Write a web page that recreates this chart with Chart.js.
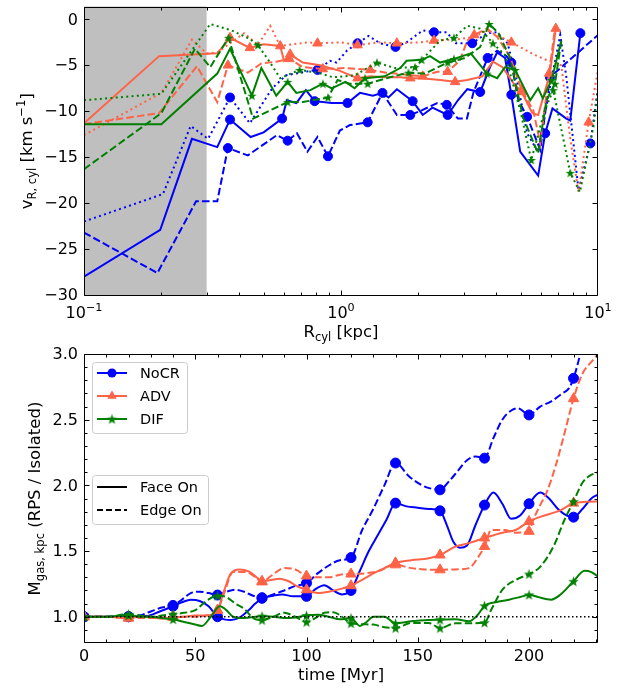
<!DOCTYPE html>
<html>
<head>
<meta charset="utf-8">
<script src="https://cdn.jsdelivr.net/npm/chart.js@4/dist/chart.umd.min.js"></script>
<style>
  body { margin: 0; background: #fff; width: 626px; height: 688px; position: relative; overflow: hidden; }
  canvas { position: absolute; left: 0; }
</style>
</head>
<body>
<canvas id="vr" width="626" height="350" style="top:0"></canvas>
<canvas id="mgas" width="626" height="348" style="top:340px"></canvas>
<script>
// ── Top panel: v_R,cyl vs R_cyl (x in kpc, y in km/s) ─────────
const rRange = [0.1, 10];
const vRange = [-30.1, 1.4];
const shadeRange = [0.1, 0.3];
const vTicks = [-30, -25, -20, -15, -10, -5, 0];
const rTicks = [0.1, 1, 10];

const nocrSolidR = [0.1, 0.198, 0.263, 0.33, 0.37, 0.445, 0.5, 0.59, 0.615, 0.67, 0.73, 0.79, 0.92, 1.06, 1.185, 1.33, 1.45, 1.53, 1.65, 1.9, 2.08, 2.27, 2.6, 2.85, 3.1, 3.48, 3.8, 4.05, 4.35, 4.6, 4.98, 5.85, 6.23, 6.65, 7.53, 7.8, 8.54];
const nocrSolidV = [-28.0, -22.9, -13.0, -13.9, -10.9, -12.8, -12.3, -10.8, -8.8, -9.1, -7.7, -8.9, -9.1, -9.1, -8.0, -8.3, -8.0, -8.5, -7.6, -8.9, -10.4, -9.6, -10.4, -8.8, -7.6, -7.9, -5.2, -3.6, -4.2, -8.2, -14.4, -17.0, -12.4, -9.7, -10.8, -11.0, -1.5];
const nocrSolidMarks = [4, 7, 11, 13, 16, 19, 22, 25, 29, 32, 36];

const nocrDashR = [0.1, 0.193, 0.273, 0.33, 0.363, 0.434, 0.563, 0.62, 0.674, 0.74, 0.81, 0.89, 0.99, 1.083, 1.27, 1.45, 1.65, 1.86, 2.06, 2.37, 2.58, 2.85, 3.09, 3.28, 3.72, 4.05, 4.4, 4.6, 4.9, 5.3, 5.96, 6.5, 10.0];
const nocrDashV = [-23.2, -27.6, -19.8, -19.8, -14.0, -14.8, -12.6, -13.2, -12.4, -14.4, -12.8, -14.9, -12.1, -11.5, -11.2, -8.0, -10.4, -10.4, -9.9, -9.1, -9.3, -10.8, -10.8, -7.9, -4.2, -3.4, -4.0, -4.7, -8.8, -10.6, -14.2, -6.3, -1.7];
const nocrDashMarks = [4, 7, 11, 14, 17, 20, 24, 27, 29, 31];

const nocrDotR = [0.1, 0.203, 0.26, 0.304, 0.37, 0.442, 0.54, 0.61, 0.69, 0.81, 0.906, 0.96, 1.055, 1.16, 1.28, 1.42, 1.63, 1.8, 2.08, 2.3, 2.58, 2.8, 3.24, 3.7, 4.04, 4.45, 4.87, 5.3, 5.83, 6.5, 7.13, 7.53, 8.4, 9.34, 10];
const nocrDotV = [-22.0, -19.0, -11.6, -13.0, -8.5, -11.3, -7.5, -6.1, -5.8, -5.5, -4.5, -4.7, -3.4, -2.6, -1.8, -2.6, -3.0, -2.5, -1.2, -1.4, -1.4, -2.6, -2.6, -1.5, -1.4, -2.6, -7.0, -12.4, -14.4, -7.4, -1.7, -6.3, -18.6, -13.5, -7.4];
const nocrDotMarks = [4, 9, 13, 16, 19, 22, 33];

const advSolidR = [0.1, 0.196, 0.33, 0.37, 0.442, 0.5, 0.58, 0.6, 0.634, 0.71, 0.83, 0.99, 1.16, 1.3, 1.48, 1.7, 1.86, 2.06, 2.43, 2.78, 3.1, 3.55, 3.9, 4.25, 4.76, 5.05, 5.55, 5.85, 6.5, 6.85];
const advSolidV = [-11.3, -4.0, -3.7, -2.0, -3.1, -2.7, -2.9, -4.5, -3.8, -4.7, -5.0, -5.6, -6.4, -6.2, -6.3, -6.3, -6.4, -6.4, -6.6, -6.8, -6.6, -6.2, -4.6, -5.2, -7.2, -7.9, -10.2, -10.4, -5.9, -1.0];
const advSolidMarks = [3, 4, 8, 12, 16, 19, 25, 29];

const advDashR = [0.1, 0.196, 0.275, 0.33, 0.363, 0.434, 0.49, 0.56, 0.63, 0.71, 0.85, 1.04, 1.3, 1.5, 1.77, 2.08, 2.37, 2.6, 2.9, 3.1, 3.3, 3.7, 4.05, 4.55, 5.05, 5.6, 5.96, 6.45, 6.8];
const advDashV = [-11.4, -10.2, -5.1, -9.0, -5.0, -5.8, -4.8, -4.6, -4.3, -5.2, -5.4, -5.3, -5.5, -5.8, -6.0, -6.2, -5.7, -5.7, -4.5, -2.3, -1.7, -1.0, -1.9, -4.1, -7.7, -9.9, -13.5, -5.9, -1.0];
const advDashMarks = [4, 8, 10, 12, 15, 17, 20, 24, 27];

const advDotR = [0.1, 0.2, 0.263, 0.3, 0.33, 0.42, 0.475, 0.53, 0.58, 0.74, 0.81, 1.0, 1.16, 1.4, 1.65, 2.03, 2.3, 2.8, 3.3, 3.7, 4.6, 5.7, 6.4, 7.2, 7.8, 8.4, 9.2, 10];
const advDotV = [-12.6, -8.0, -2.2, -3.7, -3.6, -1.5, -2.8, -0.7, -2.9, -2.5, -2.6, -2.5, -2.8, -2.5, -2.6, -2.5, -2.3, -2.2, -1.9, -1.2, -2.5, -3.9, -4.5, -5.0, -13.0, -18.8, -11.2, -5.5];
const advDotMarks = [8, 10, 12, 14, 16, 20, 26];

const difSolidR = [0.1, 0.2, 0.33, 0.37, 0.45, 0.49, 0.56, 0.62, 0.67, 0.76, 0.85, 0.92, 1.04, 1.13, 1.24, 1.48, 1.7, 1.8, 2.06, 2.22, 2.43, 2.75, 3.2, 3.7, 4.05, 4.35, 4.76, 5.45, 5.85, 6.1, 6.6, 7.2];
const difSolidV = [-11.4, -11.4, -5.9, -3.2, -8.3, -5.3, -8.3, -6.8, -8.0, -7.7, -7.0, -7.5, -6.8, -7.5, -6.4, -6.2, -5.3, -4.5, -4.4, -4.0, -4.7, -4.3, -3.7, -5.9, -6.4, -5.2, -5.5, -8.8, -7.5, -8.6, -6.6, -2.3];
const difSolidMarks = [4, 7, 10, 14, 18, 21, 23, 26, 30];

const difDashR = [0.1, 0.2, 0.27, 0.31, 0.365, 0.455, 0.53, 0.62, 0.71, 0.89, 0.97, 1.08, 1.27, 1.55, 1.83, 2.12, 2.6, 3.04, 3.48, 3.77, 4.1, 4.55, 5.1, 5.85, 6.3, 6.8, 7.2];
const difDashV = [-16.3, -10.2, -3.2, -5.2, -2.0, -10.8, -9.9, -9.0, -9.0, -8.5, -6.6, -7.0, -7.0, -6.3, -5.8, -5.9, -4.7, -4.2, -3.0, -0.5, -1.5, -4.2, -10.6, -14.6, -8.8, -7.0, -2.3];
const difDashMarks = [4, 7, 9, 12, 14, 16, 19, 25];

const difDotR = [0.1, 0.2, 0.31, 0.375, 0.44, 0.475, 0.53, 0.58, 0.69, 0.81, 0.93, 1.13, 1.38, 1.62, 1.94, 2.43, 2.75, 3.1, 3.48, 3.9, 4.35, 4.98, 5.5, 6.2, 6.7, 7.8, 8.5, 9.6, 10];
const difDotV = [-8.8, -8.1, -0.5, -1.2, -2.1, -2.8, -4.7, -6.4, -5.5, -5.8, -6.3, -6.1, -4.7, -5.3, -5.2, -2.3, -2.0, -0.7, -1.0, -2.6, -3.9, -9.9, -15.3, -9.9, -7.7, -16.7, -18.8, -11.7, -7.7];
const difDotMarks = [5, 8, 12, 14, 16, 19, 22, 24, 25];

// ── Bottom panel: M_gas,kpc (RPS / Isolated) vs time [Myr] ──
const tRange = [0, 231];
const mRange = [0.8, 3.0];
const tTicks = [0, 50, 100, 150, 200];
const mTicks = [1.0, 1.5, 2.0, 2.5, 3.0];
const markerStep = 20;

const nocrFaceT = [0, 10, 20, 28, 34, 40, 44, 48, 52, 56, 60, 63, 66, 70, 74, 77, 80, 85, 89, 94, 100, 104, 108, 112, 116, 120, 124, 128, 132, 136, 140, 145, 150, 155, 160, 163, 166, 169, 172, 176, 180, 184, 188, 192, 196, 200, 205, 209, 213, 217, 220, 224, 228, 231];
const nocrFaceM = [1.0, 1.0, 1.0, 1.005, 1.04, 1.08, 1.11, 1.13, 1.12, 1.08, 1.0, 0.98, 0.975, 0.995, 1.05, 1.1, 1.14, 1.16, 1.17, 1.155, 1.155, 1.21, 1.24, 1.2, 1.17, 1.2, 1.35, 1.5, 1.62, 1.74, 1.865, 1.84, 1.83, 1.82, 1.806, 1.7, 1.57, 1.525, 1.54, 1.7, 1.85, 1.945, 1.86, 1.745, 1.77, 1.86, 1.945, 1.9, 1.82, 1.77, 1.758, 1.82, 1.9, 1.93];

const nocrEdgeT = [0, 10, 20, 25, 30, 35, 40, 44, 48, 52, 56, 60, 64, 68, 72, 76, 80, 85, 90, 95, 100, 105, 110, 115, 120, 125, 130, 135, 140, 146, 152, 156, 160, 164, 168, 172, 176, 180, 184, 188, 192, 195, 200, 205, 210, 215, 218, 220, 223, 226];
const nocrEdgeM = [1.0, 1.0, 1.0, 1.01, 1.04, 1.07, 1.086, 1.13, 1.18, 1.19, 1.18, 1.165, 1.19, 1.205, 1.19, 1.16, 1.145, 1.17, 1.2, 1.235, 1.256, 1.33, 1.39, 1.43, 1.45, 1.66, 1.82, 2.0, 2.17, 2.07, 2.0, 1.975, 1.966, 2.03, 2.11, 2.19, 2.22, 2.207, 2.36, 2.5, 2.57, 2.587, 2.536, 2.6, 2.64, 2.7, 2.74, 2.815, 3.0, 3.25];

const advFaceT = [0, 10, 20, 25, 30, 35, 40, 45, 50, 55, 60, 63, 66, 70, 74, 78, 80, 84, 88, 92, 96, 100, 105, 110, 115, 120, 125, 130, 135, 140, 147, 155, 160, 167, 173, 180, 188, 194, 200, 205, 214, 220, 226, 231];
const advFaceM = [1.0, 1.0, 0.99, 1.0, 1.0, 0.985, 0.995, 1.0, 1.01, 1.01, 1.05, 1.2, 1.33, 1.36, 1.345, 1.295, 1.27, 1.28, 1.29, 1.27, 1.23, 1.205, 1.18, 1.19, 1.21, 1.236, 1.28, 1.33, 1.37, 1.41, 1.43, 1.445, 1.47, 1.535, 1.56, 1.6, 1.64, 1.66, 1.725, 1.76, 1.81, 1.865, 1.875, 1.877];

const advEdgeT = [0, 10, 20, 30, 40, 50, 55, 60, 63, 67, 73, 77, 80, 84, 90, 95, 100, 105, 110, 115, 120, 126, 132, 140, 147, 153, 160, 166, 173, 177, 180, 183, 189, 194, 200, 202, 205, 208, 212, 216, 220, 224, 228, 231];
const advEdgeM = [1.0, 1.0, 0.99, 0.99, 1.0, 1.0, 1.01, 1.05, 1.18, 1.34, 1.34, 1.3, 1.265, 1.31, 1.37, 1.36, 1.31, 1.3, 1.3, 1.32, 1.325, 1.33, 1.345, 1.395, 1.37, 1.36, 1.357, 1.36, 1.37, 1.45, 1.535, 1.66, 1.66, 1.64, 1.65, 1.74, 1.85, 1.95, 2.15, 2.4, 2.66, 2.85, 2.94, 3.0];

const difFaceT = [0, 10, 20, 25, 30, 35, 40, 45, 49, 53, 57, 61, 64, 67, 72, 77, 80, 85, 90, 95, 100, 105, 110, 115, 120, 124, 127, 130, 135, 140, 147, 155, 160, 167, 173, 177, 180, 185, 191, 196, 200, 204, 210, 214, 220, 225, 228, 231];
const difFaceM = [1.0, 1.0, 1.01, 1.0, 1.0, 0.99, 0.98, 0.96, 0.945, 0.93, 1.0, 1.08, 1.05, 1.0, 0.99, 1.0, 1.005, 1.0, 0.99, 0.995, 1.01, 1.015, 1.0, 0.98, 0.99, 0.93, 0.96, 1.0, 1.0, 0.95, 0.965, 0.975, 0.977, 0.98, 0.965, 1.015, 1.084, 1.11, 1.13, 1.15, 1.167, 1.15, 1.13, 1.167, 1.27, 1.35, 1.34, 1.306];

const difEdgeT = [0, 10, 20, 25, 30, 35, 40, 45, 50, 55, 60, 64, 68, 72, 76, 80, 85, 90, 95, 100, 104, 108, 112, 116, 120, 130, 135, 140, 147, 155, 160, 167, 173, 180, 183, 188, 194, 200, 205, 211, 216, 220, 224, 227, 231];
const difEdgeM = [1.0, 1.0, 1.02, 1.01, 1.0, 1.01, 1.02, 1.03, 1.05, 1.12, 1.16, 1.15, 1.1, 1.06, 0.99, 0.975, 1.0, 1.03, 1.0, 0.96, 0.99, 1.03, 1.035, 1.0, 0.95, 0.94, 0.92, 0.914, 0.952, 0.952, 0.914, 0.95, 0.95, 0.955, 1.053, 1.205, 1.28, 1.325, 1.38, 1.535, 1.74, 1.877, 2.02, 2.07, 2.1];

const isolatedT = [0, 231];
const isolatedM = [1, 1];

const runNames = ['NoCR', 'ADV', 'DIF'];
const viewNames = ['Face On', 'Edge On'];

// ── Style ──────────────────────────────────────────
const FONT = '"DejaVu Sans", sans-serif';
Chart.defaults.font.family = FONT;
const BLUE = '#0000ff', RED = '#ff6347', GREEN = '#008000';
const DASH = [7.5, 3.2], DOT = [2, 3.3];

function makeStar(color, r) {
  const c = document.createElement('canvas');
  const s = Math.ceil(r * 2) + 2;
  c.width = c.height = s;
  const g = c.getContext('2d');
  g.fillStyle = color;
  g.beginPath();
  for (let i = 0; i < 10; i++) {
    const a = -Math.PI / 2 + i * Math.PI / 5;
    const rr = i % 2 ? r * 0.4 : r;
    g.lineTo(s / 2 + rr * Math.cos(a), s / 2 + rr * Math.sin(a) + 0.5);
  }
  g.closePath();
  g.fill();
  return c;
}
const starTop = makeStar(GREEN, 5);
const starBot = makeStar(GREEN, 5.5);

// ── Rich text (sub/superscripts) ───────────────────
function drawRich(ctx, parts, x, y, size, align) {
  const fontOf = k => `${k === 'n' ? size : size * 0.7}px ${FONT}`;
  let w = 0;
  parts.forEach(([t, k]) => { ctx.font = fontOf(k); w += ctx.measureText(t).width; });
  let cx = align === 'center' ? x - w / 2 : x;
  ctx.textAlign = 'left';
  parts.forEach(([t, k]) => {
    ctx.font = fontOf(k);
    const dy = k === 'sub' ? size * 0.22 : k === 'sup' ? -size * 0.42 : 0;
    ctx.fillText(t, cx, y + dy);
    cx += ctx.measureText(t).width;
  });
}

function fmtMinus(s) { return s.replace('-', '\u2212'); }

// ── Frame, inward ticks, labels ────────────────────
function axesPlugin(spec) {
  return {
    id: 'axes',
    afterDraw(chart) {
      const { ctx, chartArea: a, scales: { x, y } } = chart;
      const L = Math.round(a.left) + 0.5, R = Math.round(a.right) - 0.5;
      const T = Math.round(a.top) + 0.5, B = Math.round(a.bottom) - 0.5;
      ctx.save();
      ctx.strokeStyle = '#000';
      ctx.lineWidth = 1;
      ctx.beginPath();
      const seg = (x1, y1, x2, y2) => { ctx.moveTo(x1, y1); ctx.lineTo(x2, y2); };
      const xt = (vals, len) => vals.forEach(v => {
        const p = Math.round(x.getPixelForValue(v)) + 0.5;
        if (p < L || p > R) return;
        seg(p, B, p, B - len); seg(p, T, p, T + len);
      });
      const yt = (vals, len) => vals.forEach(v => {
        const p = Math.round(y.getPixelForValue(v)) + 0.5;
        if (p < T || p > B) return;
        seg(L, p, L + len, p); seg(R, p, R - len, p);
      });
      xt(spec.xMinor, 3); xt(spec.xMajor, 5);
      yt(spec.yMinor, 3); yt(spec.yMajor, 5);
      ctx.rect(L, T, R - L, B - T);
      ctx.stroke();

      ctx.fillStyle = '#000';
      ctx.textBaseline = 'alphabetic';
      spec.xMajor.forEach(v => drawRich(ctx, spec.xLabel(v), x.getPixelForValue(v), spec.xLabelY, 16, 'center'));
      ctx.font = `16px ${FONT}`;
      ctx.textAlign = 'right';
      ctx.textBaseline = 'middle';
      spec.yMajor.forEach(v => ctx.fillText(spec.yLabel(v), a.left - 6, y.getPixelForValue(v) + 1));

      ctx.textBaseline = 'alphabetic';
      drawRich(ctx, spec.xTitle, (a.left + a.right) / 2, spec.xTitleY, 16.5, 'center');
      ctx.translate(spec.yTitleX, (a.top + a.bottom) / 2);
      ctx.rotate(-Math.PI / 2);
      drawRich(ctx, spec.yTitle, 0, 0, 16.5, 'center');
      ctx.restore();
    }
  };
}

const shadePlugin = {
  id: 'shade',
  beforeDatasetsDraw(chart) {
    const { ctx, chartArea: a, scales: { x } } = chart;
    const x0 = x.getPixelForValue(shadeRange[0]);
    const x1 = x.getPixelForValue(shadeRange[1]);
    ctx.save();
    ctx.fillStyle = '#bfbfbf';
    ctx.fillRect(x0, a.top, x1 - x0, a.bottom - a.top);
    ctx.restore();
  }
};

// ── Top chart ──────────────────────────────────────
function vrLine(R, V, marks, color, dash, style) {
  const size = style === 'circle' ? 4.5 : style === 'triangle' ? 5.5 : 4;
  return {
    data: R.map((r, i) => ({ x: r, y: V[i] })),
    borderColor: color,
    backgroundColor: color,
    borderWidth: 2,
    borderDash: dash,
    tension: 0,
    pointStyle: style === 'star' ? starTop : style,
    pointBackgroundColor: color,
    pointBorderColor: color,
    pointBorderWidth: 1,
    pointRadius: c => marks.includes(c.dataIndex) ? size : 0,
  };
}

const rMinor = [];
[0.1, 1].forEach(d => { for (let k = 2; k <= 9; k++) rMinor.push(d * k); });

new Chart(document.getElementById('vr'), {
  type: 'line',
  data: {
    datasets: [
      vrLine(difSolidR, difSolidV, difSolidMarks, GREEN, [], 'star'),
      vrLine(difDashR, difDashV, difDashMarks, GREEN, DASH, 'star'),
      vrLine(difDotR, difDotV, difDotMarks, GREEN, DOT, 'star'),
      vrLine(advSolidR, advSolidV, advSolidMarks, RED, [], 'triangle'),
      vrLine(advDashR, advDashV, advDashMarks, RED, DASH, 'triangle'),
      vrLine(advDotR, advDotV, advDotMarks, RED, DOT, 'triangle'),
      vrLine(nocrSolidR, nocrSolidV, nocrSolidMarks, BLUE, [], 'circle'),
      vrLine(nocrDashR, nocrDashV, nocrDashMarks, BLUE, DASH, 'circle'),
      vrLine(nocrDotR, nocrDotV, nocrDotMarks, BLUE, DOT, 'circle'),
    ],
  },
  options: {
    responsive: false,
    animation: false,
    devicePixelRatio: 1,
    layout: { padding: { top: 6, right: 28, left: 0, bottom: 0 } },
    plugins: { legend: { display: false }, tooltip: { enabled: false } },
    scales: {
      x: {
        type: 'logarithmic', min: rRange[0], max: rRange[1],
        grid: { display: false }, border: { display: false }, ticks: { display: false },
        afterFit: s => { s.height = 54; },
      },
      y: {
        type: 'linear', min: vRange[0], max: vRange[1],
        grid: { display: false }, border: { display: false }, ticks: { display: false },
        afterFit: s => { s.width = 84; },
      },
    },
  },
  plugins: [shadePlugin, axesPlugin({
    xMajor: rTicks, xMinor: rMinor, yMajor: vTicks, yMinor: [],
    xLabel: v => [['10', 'n'], [fmtMinus(String(Math.round(Math.log10(v)))), 'sup']],
    yLabel: v => fmtMinus(String(v)),
    xLabelY: 318, xTitleY: 337, yTitleX: 32,
    xTitle: [['R', 'n'], ['cyl', 'sub'], [' [kpc]', 'n']],
    yTitle: [['v', 'n'], ['R, cyl', 'sub'], [' [km s', 'n'], ['\u22121', 'sup'], [']', 'n']],
  })],
});

// ── Bottom chart ───────────────────────────────────
function massLine(T, M, color, dash, style) {
  const size = style === 'circle' ? 5 : style === 'triangle' ? 6 : 4;
  return {
    data: T.map((t, i) => ({ x: t, y: M[i] })),
    borderColor: color,
    backgroundColor: color,
    borderWidth: 2,
    borderDash: dash,
    cubicInterpolationMode: 'monotone',
    pointStyle: style === 'star' ? starBot : style,
    pointBackgroundColor: color,
    pointBorderColor: color,
    pointBorderWidth: 1,
    pointRadius: c => (c.raw && c.raw.x % markerStep === 0) ? size : 0,
  };
}

const tMinor = [];
for (let t = 0; t <= 230; t += 10) tMinor.push(t);
const mMinor = [];
for (let k = 8; k <= 30; k++) mMinor.push(k / 10);

function drawMarker(ctx, style, color, x, y) {
  ctx.fillStyle = color;
  ctx.beginPath();
  if (style === 'circle') {
    ctx.arc(x, y, 4.5, 0, Math.PI * 2);
    ctx.fill();
  } else if (style === 'triangle') {
    const r = 5.5;
    ctx.moveTo(x, y - r);
    ctx.lineTo(x + r * 0.866, y + r * 0.5);
    ctx.lineTo(x - r * 0.866, y + r * 0.5);
    ctx.closePath();
    ctx.fill();
  } else {
    ctx.drawImage(starBot, x - starBot.width / 2, y - starBot.height / 2);
  }
}

function legendBox(ctx, x, y, w, h) {
  ctx.beginPath();
  ctx.roundRect(x + 0.5, y + 0.5, w, h, 3);
  ctx.fillStyle = 'rgba(255,255,255,0.85)';
  ctx.fill();
  ctx.strokeStyle = '#cccccc';
  ctx.lineWidth = 1;
  ctx.stroke();
}

const legendPlugin = {
  id: 'legends',
  afterDraw(chart) {
    const { ctx, chartArea: a } = chart;
    const colors = [BLUE, RED, GREEN];
    const styles = ['circle', 'triangle', 'star'];
    ctx.save();
    ctx.font = `14.5px ${FONT}`;
    ctx.textBaseline = 'middle';
    ctx.textAlign = 'left';

    let bx = a.left + 8, by = a.top + 8;
    legendBox(ctx, bx, by, 95, 71);
    runNames.forEach((name, i) => {
      const ry = by + 11 + i * 23;
      ctx.strokeStyle = colors[i];
      ctx.lineWidth = 2;
      ctx.setLineDash([]);
      ctx.beginPath(); ctx.moveTo(bx + 5, ry); ctx.lineTo(bx + 35, ry); ctx.stroke();
      drawMarker(ctx, styles[i], colors[i], bx + 20, ry);
      ctx.fillStyle = '#000';
      ctx.fillText(name, bx + 48, ry + 1);
    });

    by = a.top + 121;
    legendBox(ctx, bx, by, 116, 49);
    viewNames.forEach((name, i) => {
      const ry = by + 12 + i * 23;
      ctx.strokeStyle = '#000';
      ctx.lineWidth = 2;
      ctx.setLineDash(i === 0 ? [] : [6, 3]);
      ctx.beginPath(); ctx.moveTo(bx + 5, ry); ctx.lineTo(bx + 35, ry); ctx.stroke();
      ctx.setLineDash([]);
      ctx.fillStyle = '#000';
      ctx.fillText(name, bx + 48, ry + 1);
    });
    ctx.restore();
  }
};

new Chart(document.getElementById('mgas'), {
  type: 'line',
  data: {
    datasets: [
      {
        data: isolatedT.map((t, i) => ({ x: t, y: isolatedM[i] })),
        borderColor: '#000', borderWidth: 1.5, borderDash: [1.5, 2.5], pointRadius: 0,
      },
      massLine(difEdgeT, difEdgeM, GREEN, DASH, 'star'),
      massLine(difFaceT, difFaceM, GREEN, [], 'star'),
      massLine(advEdgeT, advEdgeM, RED, DASH, 'triangle'),
      massLine(advFaceT, advFaceM, RED, [], 'triangle'),
      massLine(nocrEdgeT, nocrEdgeM, BLUE, DASH, 'circle'),
      massLine(nocrFaceT, nocrFaceM, BLUE, [], 'circle'),
    ],
  },
  options: {
    responsive: false,
    animation: false,
    devicePixelRatio: 1,
    layout: { padding: { top: 14, right: 28, left: 0, bottom: 0 } },
    plugins: { legend: { display: false }, tooltip: { enabled: false } },
    scales: {
      x: {
        type: 'linear', min: tRange[0], max: tRange[1],
        grid: { display: false }, border: { display: false }, ticks: { display: false },
        afterFit: s => { s.height = 45; },
      },
      y: {
        type: 'linear', min: mRange[0], max: mRange[1],
        grid: { display: false }, border: { display: false }, ticks: { display: false },
        afterFit: s => { s.width = 84; },
      },
    },
  },
  plugins: [axesPlugin({
    xMajor: tTicks, xMinor: tMinor, yMajor: mTicks, yMinor: mMinor,
    xLabel: v => [[String(v), 'n']],
    yLabel: v => v.toFixed(1),
    xLabelY: 321, xTitleY: 340, yTitleX: 40,
    xTitle: [['time [Myr]', 'n']],
    yTitle: [['M', 'n'], ['gas, kpc', 'sub'], [' (RPS / Isolated)', 'n']],
  }), legendPlugin],
});
</script>
</body>
</html>
